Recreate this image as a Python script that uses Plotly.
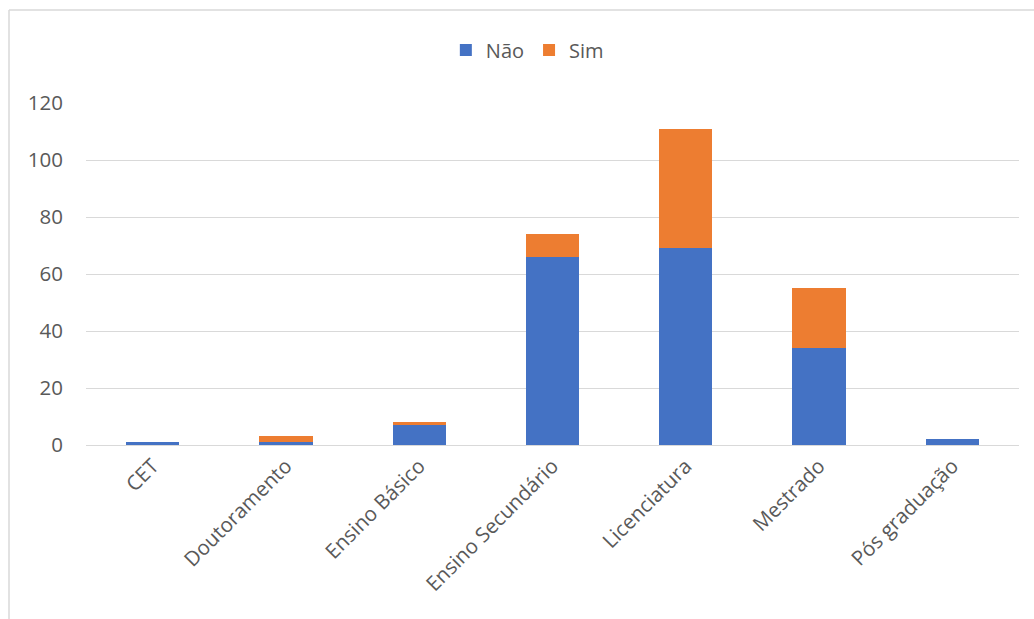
import plotly.graph_objects as go

# Education level categories and counts per answer
categories = ["CET", "Doutoramento", "Ensino Básico", "Ensino Secundário",
              "Licenciatura", "Mestrado", "Pós graduação"]
nao = [1, 1, 7, 66, 69, 34, 2]
sim = [0, 2, 1, 8, 42, 21, 0]
y_ticks = [0, 20, 40, 60, 80, 100, 120]

FONT = "Open Sans"
GREY = "#595959"

fig = go.Figure()
fig.add_trace(go.Bar(name="Não", x=categories, y=nao, marker_color="#4472C4",
                     marker_line_width=0))
fig.add_trace(go.Bar(name="Sim", x=categories, y=sim, marker_color="#ED7D31",
                     marker_line_width=0))

fig.update_layout(
    barmode="stack",
    bargap=0.6,
    width=1034,
    height=619,
    margin=dict(l=86, r=15, t=103, b=174),
    paper_bgcolor="white",
    plot_bgcolor="white",
    font=dict(family=FONT, size=20, color=GREY),
    legend=dict(orientation="h", xref="container", yref="container",
                x=0.51, y=1 - 50 / 619, xanchor="center", yanchor="middle",
                font=dict(family=FONT, size=20, color=GREY),
                itemwidth=30, traceorder="normal"),
    showlegend=True,
)
fig.update_yaxes(range=[0, 120], tickvals=y_ticks, showgrid=True,
                 gridcolor="#d9d9d9", gridwidth=1, zeroline=False,
                 showline=False, ticklabelstandoff=22,
                 tickfont=dict(family=FONT, size=20.5, color=GREY))
fig.update_xaxes(tickangle=-45, showline=True, linecolor="#d9d9d9",
                 linewidth=1, ticks="",
                 tickfont=dict(family=FONT, size=20.5, color=GREY))

# Light frame around the chart area
fig.add_shape(type="line", xref="paper", yref="paper",
              x0=(9 - 86) / 933, x1=(1040 - 86) / 933,
              y0=1 + (103 - 10) / 342, y1=1 + (103 - 10) / 342,
              line=dict(color="#d9d9d9", width=1.5))
fig.add_shape(type="line", xref="paper", yref="paper",
              x0=(9 - 86) / 933, x1=(9 - 86) / 933,
              y0=1 + (103 - 10) / 342, y1=-(619 - 445 + 10) / 342,
              line=dict(color="#d9d9d9", width=1.5))

fig.write_html("out.html")
